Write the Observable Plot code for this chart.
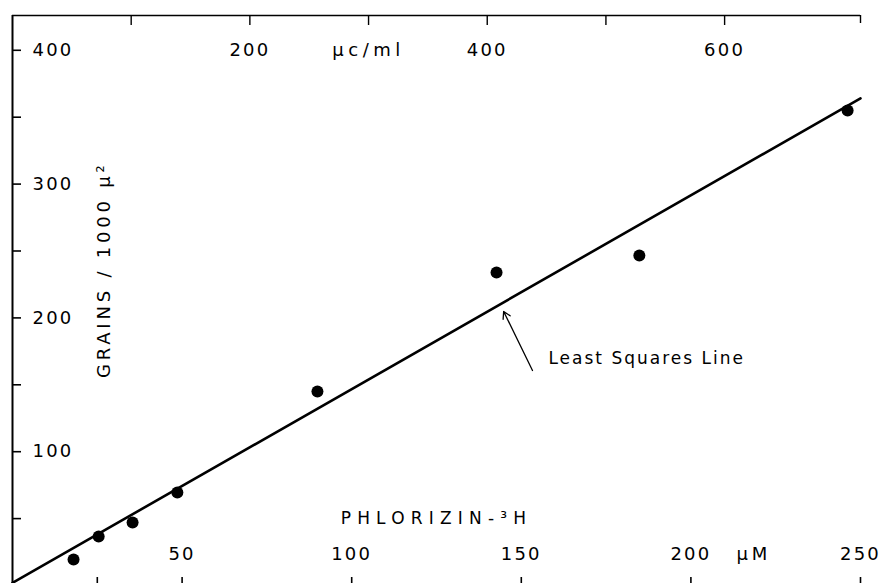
<!DOCTYPE html>
<html>
<head>
<meta charset="utf-8">
<script src="https://cdn.jsdelivr.net/npm/d3@7"></script>
<script src="https://cdn.jsdelivr.net/npm/@observablehq/plot@0.6"></script>
<style>
  html, body { margin: 0; padding: 0; background: #fff; }
  #chart svg { display: block; }
</style>
</head>
<body>
<div id="chart"></div>
<script>
// Data
const concUM   = [18.0, 25.4, 35.4, 48.6, 89.9, 142.7, 184.8, 246.2];   // PHLORIZIN-3H, µM
const grains   = [19.4, 36.6, 47.1, 69.5, 145.0, 234.0, 246.6, 355.0]; // grains / 1000 µ²
const fitX     = [0, 250];
const fitY     = [2, 364];
const yTicks       = [50, 100, 150, 200, 250, 300, 350, 400];
const yTickLabels  = [100, 200, 300, 400];
const xTicks       = [25, 50, 100, 150, 200, 250];
const xTickLabels  = [50, 100, 150, 200, 250];
const topTicks     = [100, 200, 300, 400, 500, 600];   // µc/ml
const topTickLabels = [200, 400, 600];
const ucPerUM = 2.858;   // µc/ml per µM, from the two scales
const yTitle = "GRAINS / 1000 μ²";
const xTitle = "PHLORIZIN-³H";
const topUnit = "μc/ml";
const bottomUnit = "μM";
const fitLabel = "Least Squares Line";

const points = concUM.map((x, i) => ({x, y: grains[i]}));
const fit = fitX.map((x, i) => ({x, y: fitY[i]}));

const W = 883, H = 583;
const mL = 12, mR = 23, mT = 15, mB = 0;
const innerW = W - mL - mR, innerH = H - mT - mB;
const yMax = 426;
const font = "DejaVu Sans, sans-serif";

const chart = Plot.plot({
  width: W, height: H,
  marginLeft: mL, marginRight: mR, marginTop: mT, marginBottom: mB,
  style: {background: "#fff", fontFamily: font, color: "#000"},
  x: {domain: [0, 250], axis: null},
  y: {domain: [1.5, yMax], axis: null},
  marks: [
    // frame
    Plot.ruleX([0], {stroke: "#000", strokeWidth: 2}),
    Plot.ruleY([yMax], {stroke: "#000", strokeWidth: 1.6}),
    // left ticks (inward)
    Plot.tickY(yTicks, {y: d => d, insetRight: innerW - 9, stroke: "#000", strokeWidth: 1.6}),
    // bottom ticks (upward)
    Plot.tickX(xTicks, {x: d => d, insetTop: innerH - 6, stroke: "#000", strokeWidth: 1.6}),
    // top ticks (downward), µc/ml
    Plot.tickX(topTicks, {x: d => d / ucPerUM, insetBottom: innerH - 10, stroke: "#000", strokeWidth: 1.4}),
    Plot.tickX([250], {x: d => d, insetBottom: innerH - 8, stroke: "#000", strokeWidth: 1.4}),
    // tick labels
    Plot.text(yTickLabels, {x: 0, y: d => d, text: d => String(d), dx: 20, textAnchor: "start",
      fontSize: 18, fill: "#000"}),
    Plot.text(xTickLabels, {x: d => d, text: d => String(d), frameAnchor: "bottom", dy: -24,
      fontSize: 18, fill: "#000"}),
    Plot.text(topTickLabels, {x: d => d / ucPerUM, text: d => String(d), frameAnchor: "top", dy: 28,
      fontSize: 18, fill: "#000"}),
    Plot.text([topUnit], {x: () => 300 / ucPerUM, text: d => d, frameAnchor: "top", dy: 28,
      fontSize: 18, fill: "#000"}),
    Plot.text([bottomUnit], {x: () => 200, text: d => d, frameAnchor: "bottom", dy: -24, dx: 63,
      fontSize: 18, fill: "#000"}),
    // axis titles
    Plot.text([yTitle], {x: () => 27.1, y: () => 236, rotate: -90, text: d => d,
      fontSize: 18, fill: "#000"}),
    Plot.text([xTitle], {x: () => 125, text: d => d, frameAnchor: "bottom", dy: -60,
      fontSize: 17, fill: "#000"}),
    // least squares line
    Plot.line(fit, {x: "x", y: "y", stroke: "#000", strokeWidth: 2.6}),
    // data points
    Plot.dot(points, {x: "x", y: "y", r: 6, fill: "#000", stroke: "none"}),
    // annotation
    Plot.arrow([{x1: 153.3, y1: 160.7, x2: 144.8, y2: 204.8}], {x1: "x1", y1: "y1", x2: "x2", y2: "y2",
      stroke: "#000", strokeWidth: 1.3, headLength: 9}),
    Plot.text([fitLabel], {x: () => 158, y: () => 169.7, text: d => d, textAnchor: "start",
      fontSize: 17, fill: "#000"})
  ]
});
// Wide, stencil-like lettering spacing of the original
d3.select(chart).selectAll("text").each(function() {
  const t = this.textContent;
  let ls = 2.2;
  if (t === xTitle) ls = 6.2;
  else if (t === topUnit) ls = 4.5;
  else if (t === bottomUnit) ls = 4;
  else if (t === fitLabel) ls = 2;
  else if (t === yTitle) ls = 3.8;
  this.setAttribute("letter-spacing", ls + "px");
});
document.getElementById("chart").appendChild(chart);
</script>
</body>
</html>
